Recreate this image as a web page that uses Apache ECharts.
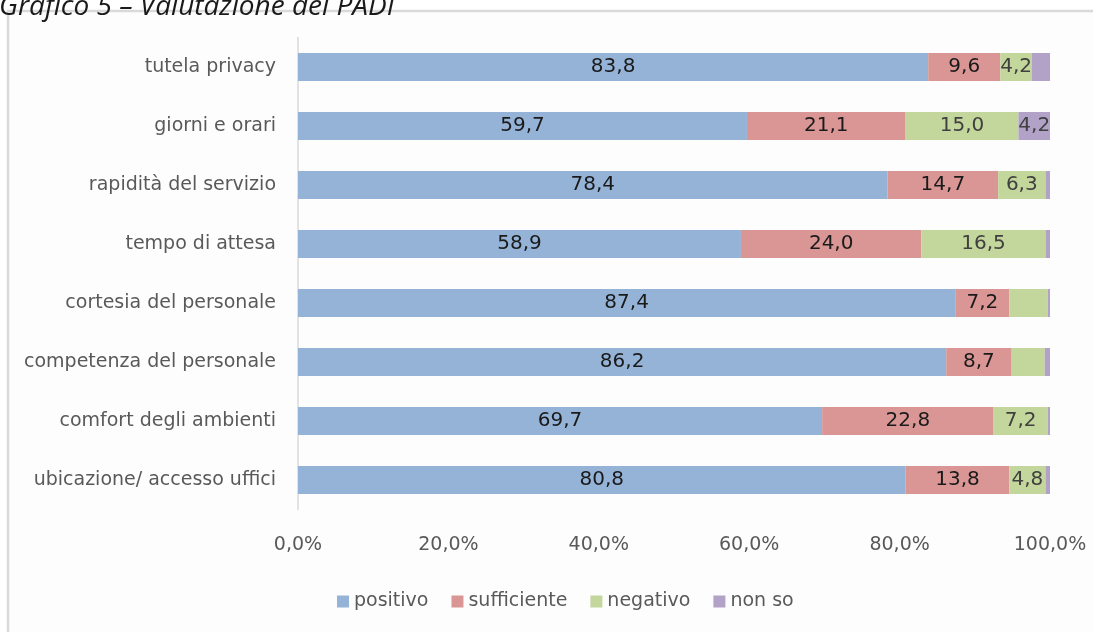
<!DOCTYPE html>
<html>
<head>
<meta charset="utf-8">
<script src="https://cdn.jsdelivr.net/npm/echarts@6/dist/echarts.min.js"></script>
<style>
html,body{margin:0;padding:0;background:#fff;}
#_chart{width:1093px;height:632px;}
</style>
</head>
<body>
<div id="_chart"></div>
<script>
// categorie dall'alto verso il basso
var categorie = ['tutela privacy','giorni e orari','rapidità del servizio','tempo di attesa',
	'cortesia del personale','competenza del personale','comfort degli ambienti','ubicazione/ accesso uffici'];
var positivo    = [83.8, 59.7, 78.4, 58.9, 87.4, 86.2, 69.7, 80.8];
var sufficiente = [9.6, 21.1, 14.7, 24.0, 7.2, 8.7, 22.8, 13.8];
var negativo    = [4.2, 15.0, 6.3, 16.5, 5.1, 4.4, 7.2, 4.8];
var nonSo       = [2.4, 4.2, 0.6, 0.6, 0.3, 0.7, 0.3, 0.6];
// etichette visibili nel grafico originale
var etichNegativo = [true, true, true, true, false, false, true, true];
var etichNonSo    = [false, true, false, false, false, false, false, false];
var tickX = [0, 20, 40, 60, 80, 100];

var FONT = 'DejaVu Sans';

function virgola(v){
	return v.toFixed(1).replace('.', ',');
}

function serie(nome, valori, colore, coloreTesto, mostra){
	return {
		name: nome,
		type: 'bar',
		stack: 'tot',
		barWidth: 28,
		itemStyle: {color: colore},
		label: {
			show: true,
			position: 'inside',
			color: coloreTesto,
			fontFamily: FONT,
			fontSize: 20,
			formatter: function(p){ return virgola(p.value); }
		},
		data: valori.map(function(v, i){
			return mostra && !mostra[i] ? {value: v, label: {show: false}} : v;
		})
	};
}

var _chart = echarts.init(document.getElementById('_chart'));
var _chart_option = {
	animation: false,
	backgroundColor: '#ffffff',
	graphic: [
		{
			type: 'rect',
			shape: {x: 8, y: 11, width: 1200, height: 700},
			style: {fill: '#fdfdfd', stroke: '#d9d9d9', lineWidth: 2.5},
			z: -10
		},
		{
			type: 'text',
			x: -1, y: 21,
			style: {
				text: 'Grafico 5 – Valutazione del PADI',
				font: 'italic 28px "Open Sans"',
				fill: '#1a1a1a',
				textVerticalAlign: 'bottom'
			}
		}
	],
	grid: {left: 298, right: 43, top: 37.5, bottom: 122.5, containLabel: false},
	legend: {
		top: 587,
		left: 332,
		itemWidth: 12,
		itemHeight: 12,
		itemGap: 23,
		icon: 'rect',
		textStyle: {color: '#595959', fontFamily: FONT, fontSize: 19},
		data: ['positivo','sufficiente','negativo','non so']
	},
	xAxis: {
		type: 'value',
		min: tickX[0],
		max: tickX[tickX.length - 1],
		interval: tickX[1] - tickX[0],
		splitLine: {show: false},
		axisLine: {show: false},
		axisTick: {show: false},
		axisLabel: {
			margin: 26,
			color: '#595959',
			fontFamily: FONT,
			fontSize: 19,
			formatter: function(v){ return virgola(v) + '%'; }
		}
	},
	yAxis: {
		type: 'category',
		inverse: true,
		data: categorie,
		axisLine: {show: true, lineStyle: {color: '#d9d9d9', width: 1.5}},
		axisTick: {show: false},
		axisLabel: {margin: 22, color: '#595959', fontFamily: FONT, fontSize: 19}
	},
	series: [
		serie('positivo', positivo, '#95b3d7', '#1a1a1a'),
		serie('sufficiente', sufficiente, '#d99694', '#1a1a1a'),
		serie('negativo', negativo, '#c3d69b', '#404040', etichNegativo),
		serie('non so', nonSo, '#b3a2c7', '#404040', etichNonSo)
	]
};
_chart.setOption(_chart_option);
</script>
</body>
</html>
